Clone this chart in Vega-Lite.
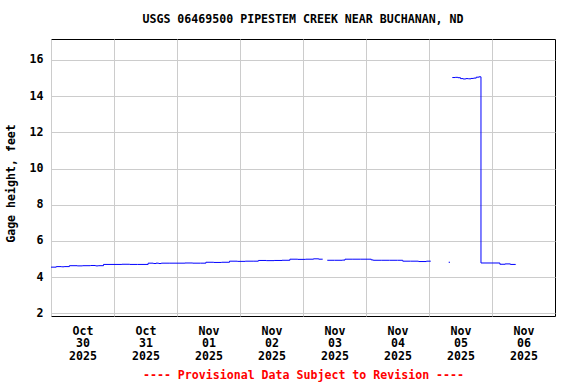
{
  "$schema": "https://vega.github.io/schema/vega-lite/v6.json",
  "width": 504,
  "height": 277,
  "autosize": "none",
  "padding": {"left": 51, "top": 39, "right": 21, "bottom": 68},
  "background": "white",
  "title": {
    "text": "USGS 06469500 PIPESTEM CREEK NEAR BUCHANAN, ND",
    "anchor": "middle",
    "font": "DejaVu Sans Mono",
    "fontWeight": "bold",
    "fontSize": 11.6,
    "color": "black",
    "offset": 13
  },
  "config": {
    "view": {"stroke": "black", "strokeWidth": 1},
    "font": "DejaVu Sans Mono"
  },
  "data": {
    "values": [
      {"t": "2025-10-30T00:00:00Z", "v": 4.55, "s": 1},
      {"t": "2025-10-30T02:00:00Z", "v": 4.58, "s": 1},
      {"t": "2025-10-30T04:00:00Z", "v": 4.57, "s": 1},
      {"t": "2025-10-30T05:00:00Z", "v": 4.58, "s": 1},
      {"t": "2025-10-30T07:00:00Z", "v": 4.63, "s": 1},
      {"t": "2025-10-30T10:00:00Z", "v": 4.62, "s": 1},
      {"t": "2025-10-30T12:00:00Z", "v": 4.63, "s": 1},
      {"t": "2025-10-30T15:00:00Z", "v": 4.64, "s": 1},
      {"t": "2025-10-30T17:00:00Z", "v": 4.62, "s": 1},
      {"t": "2025-10-30T18:00:00Z", "v": 4.63, "s": 1},
      {"t": "2025-10-30T20:00:00Z", "v": 4.70, "s": 1},
      {"t": "2025-10-31T00:00:00Z", "v": 4.70, "s": 1},
      {"t": "2025-10-31T03:00:00Z", "v": 4.71, "s": 1},
      {"t": "2025-10-31T06:00:00Z", "v": 4.70, "s": 1},
      {"t": "2025-10-31T09:00:00Z", "v": 4.70, "s": 1},
      {"t": "2025-10-31T13:00:00Z", "v": 4.77, "s": 1},
      {"t": "2025-10-31T15:00:00Z", "v": 4.75, "s": 1},
      {"t": "2025-10-31T16:00:00Z", "v": 4.77, "s": 1},
      {"t": "2025-10-31T17:00:00Z", "v": 4.75, "s": 1},
      {"t": "2025-10-31T18:00:00Z", "v": 4.77, "s": 1},
      {"t": "2025-10-31T21:00:00Z", "v": 4.77, "s": 1},
      {"t": "2025-11-01T00:00:00Z", "v": 4.77, "s": 1},
      {"t": "2025-11-01T03:00:00Z", "v": 4.78, "s": 1},
      {"t": "2025-11-01T06:00:00Z", "v": 4.77, "s": 1},
      {"t": "2025-11-01T09:00:00Z", "v": 4.77, "s": 1},
      {"t": "2025-11-01T11:00:00Z", "v": 4.82, "s": 1},
      {"t": "2025-11-01T14:00:00Z", "v": 4.81, "s": 1},
      {"t": "2025-11-01T17:00:00Z", "v": 4.82, "s": 1},
      {"t": "2025-11-01T20:00:00Z", "v": 4.88, "s": 1},
      {"t": "2025-11-01T23:00:00Z", "v": 4.87, "s": 1},
      {"t": "2025-11-02T02:00:00Z", "v": 4.88, "s": 1},
      {"t": "2025-11-02T05:00:00Z", "v": 4.88, "s": 1},
      {"t": "2025-11-02T07:00:00Z", "v": 4.92, "s": 1},
      {"t": "2025-11-02T10:00:00Z", "v": 4.91, "s": 1},
      {"t": "2025-11-02T13:00:00Z", "v": 4.92, "s": 1},
      {"t": "2025-11-02T16:00:00Z", "v": 4.93, "s": 1},
      {"t": "2025-11-02T19:00:00Z", "v": 4.99, "s": 1},
      {"t": "2025-11-02T22:00:00Z", "v": 4.98, "s": 1},
      {"t": "2025-11-03T01:00:00Z", "v": 4.99, "s": 1},
      {"t": "2025-11-03T04:00:00Z", "v": 5.01, "s": 1},
      {"t": "2025-11-03T06:00:00Z", "v": 4.99, "s": 1},
      {"t": "2025-11-03T07:30:00Z", "v": 4.99, "s": 1},
      {"t": "2025-11-03T09:15:00Z", "v": 4.93, "s": 2},
      {"t": "2025-11-03T12:00:00Z", "v": 4.93, "s": 2},
      {"t": "2025-11-03T15:00:00Z", "v": 4.94, "s": 2},
      {"t": "2025-11-03T16:00:00Z", "v": 4.99, "s": 2},
      {"t": "2025-11-03T19:00:00Z", "v": 4.99, "s": 2},
      {"t": "2025-11-03T22:00:00Z", "v": 4.99, "s": 2},
      {"t": "2025-11-04T00:45:00Z", "v": 4.99, "s": 2},
      {"t": "2025-11-04T02:00:00Z", "v": 4.95, "s": 2},
      {"t": "2025-11-04T02:45:00Z", "v": 4.93, "s": 2},
      {"t": "2025-11-04T06:00:00Z", "v": 4.93, "s": 2},
      {"t": "2025-11-04T09:00:00Z", "v": 4.93, "s": 2},
      {"t": "2025-11-04T12:00:00Z", "v": 4.93, "s": 2},
      {"t": "2025-11-04T14:00:00Z", "v": 4.88, "s": 2},
      {"t": "2025-11-04T17:00:00Z", "v": 4.88, "s": 2},
      {"t": "2025-11-04T20:00:00Z", "v": 4.86, "s": 2},
      {"t": "2025-11-04T23:00:00Z", "v": 4.88, "s": 2},
      {"t": "2025-11-05T00:40:00Z", "v": 4.88, "s": 2},
      {"t": "2025-11-05T07:30:00Z", "v": 4.82, "s": 3},
      {"t": "2025-11-05T08:00:00Z", "v": 4.82, "s": 3},
      {"t": "2025-11-05T08:53:00Z", "v": 15.03, "s": 4},
      {"t": "2025-11-05T10:00:00Z", "v": 15.04, "s": 4},
      {"t": "2025-11-05T11:00:00Z", "v": 15.02, "s": 4},
      {"t": "2025-11-05T12:00:00Z", "v": 14.97, "s": 4},
      {"t": "2025-11-05T13:00:00Z", "v": 14.95, "s": 4},
      {"t": "2025-11-05T14:00:00Z", "v": 14.97, "s": 4},
      {"t": "2025-11-05T15:00:00Z", "v": 14.96, "s": 4},
      {"t": "2025-11-05T16:00:00Z", "v": 14.98, "s": 4},
      {"t": "2025-11-05T17:00:00Z", "v": 15.00, "s": 4},
      {"t": "2025-11-05T18:00:00Z", "v": 15.05, "s": 4},
      {"t": "2025-11-05T19:00:00Z", "v": 15.07, "s": 4},
      {"t": "2025-11-05T19:48:00Z", "v": 4.78, "s": 4},
      {"t": "2025-11-06T00:00:00Z", "v": 4.78, "s": 4},
      {"t": "2025-11-06T03:00:00Z", "v": 4.71, "s": 4},
      {"t": "2025-11-06T05:00:00Z", "v": 4.73, "s": 4},
      {"t": "2025-11-06T07:00:00Z", "v": 4.70, "s": 4},
      {"t": "2025-11-06T09:00:00Z", "v": 4.71, "s": 4}
    ]
  },
  "mark": {"type": "line", "interpolate": "step-after", "color": "#0000ff", "strokeWidth": 1, "clip": true},
  "encoding": {
    "x": {
      "field": "t",
      "type": "temporal",
      "scale": {
        "type": "utc",
        "domain": [
          {"year": 2025, "month": 10, "date": 30, "utc": true},
          {"year": 2025, "month": 11, "date": 7, "utc": true}
        ]
      },
      "axis": {
        "values": [
          {"year": 2025, "month": 10, "date": 30, "utc": true},
          {"year": 2025, "month": 10, "date": 31, "utc": true},
          {"year": 2025, "month": 11, "date": 1, "utc": true},
          {"year": 2025, "month": 11, "date": 2, "utc": true},
          {"year": 2025, "month": 11, "date": 3, "utc": true},
          {"year": 2025, "month": 11, "date": 4, "utc": true},
          {"year": 2025, "month": 11, "date": 5, "utc": true},
          {"year": 2025, "month": 11, "date": 6, "utc": true}
        ],
        "labelExpr": "[utcFormat(datum.value, '%b'), utcFormat(datum.value, '%d'), utcFormat(datum.value, '%Y')]",
        "labelOffset": 31.5,
        "labelOverlap": false,
        "labelFlush": false,
        "labelBound": false,
        "labelFont": "DejaVu Sans Mono",
        "labelFontWeight": "bold",
        "labelFontSize": 11.6,
        "labelColor": "black",
        "labelLineHeight": 12.7,
        "labelPadding": 9,
        "ticks": false,
        "domain": false,
        "grid": true,
        "gridColor": "#cccccc",
        "gridWidth": 1,
        "title": "---- Provisional Data Subject to Revision ----",
        "titleColor": "#ff0000",
        "titleFont": "DejaVu Sans Mono",
        "titleFontWeight": "bold",
        "titleFontSize": 11.6,
        "titleBaseline": "middle",
        "titleY": 59
      }
    },
    "y": {
      "field": "v",
      "type": "quantitative",
      "scale": {"domain": [1.85, 17.16], "nice": false, "zero": false},
      "axis": {
        "values": [2, 4, 6, 8, 10, 12, 14, 16],
        "labelFont": "DejaVu Sans Mono",
        "labelFontWeight": "bold",
        "labelFontSize": 11.6,
        "labelColor": "black",
        "labelPadding": 8,
        "ticks": false,
        "domain": false,
        "grid": true,
        "gridColor": "#cccccc",
        "gridWidth": 1,
        "title": "Gage height, feet",
        "titleColor": "black",
        "titleFont": "DejaVu Sans Mono",
        "titleFontWeight": "bold",
        "titleFontSize": 11.6,
        "titleAngle": -90,
        "titleAlign": "center",
        "titleBaseline": "middle",
        "titleX": -40,
        "titleY": 144
      }
    },
    "detail": {"field": "s", "type": "nominal"}
  }
}
